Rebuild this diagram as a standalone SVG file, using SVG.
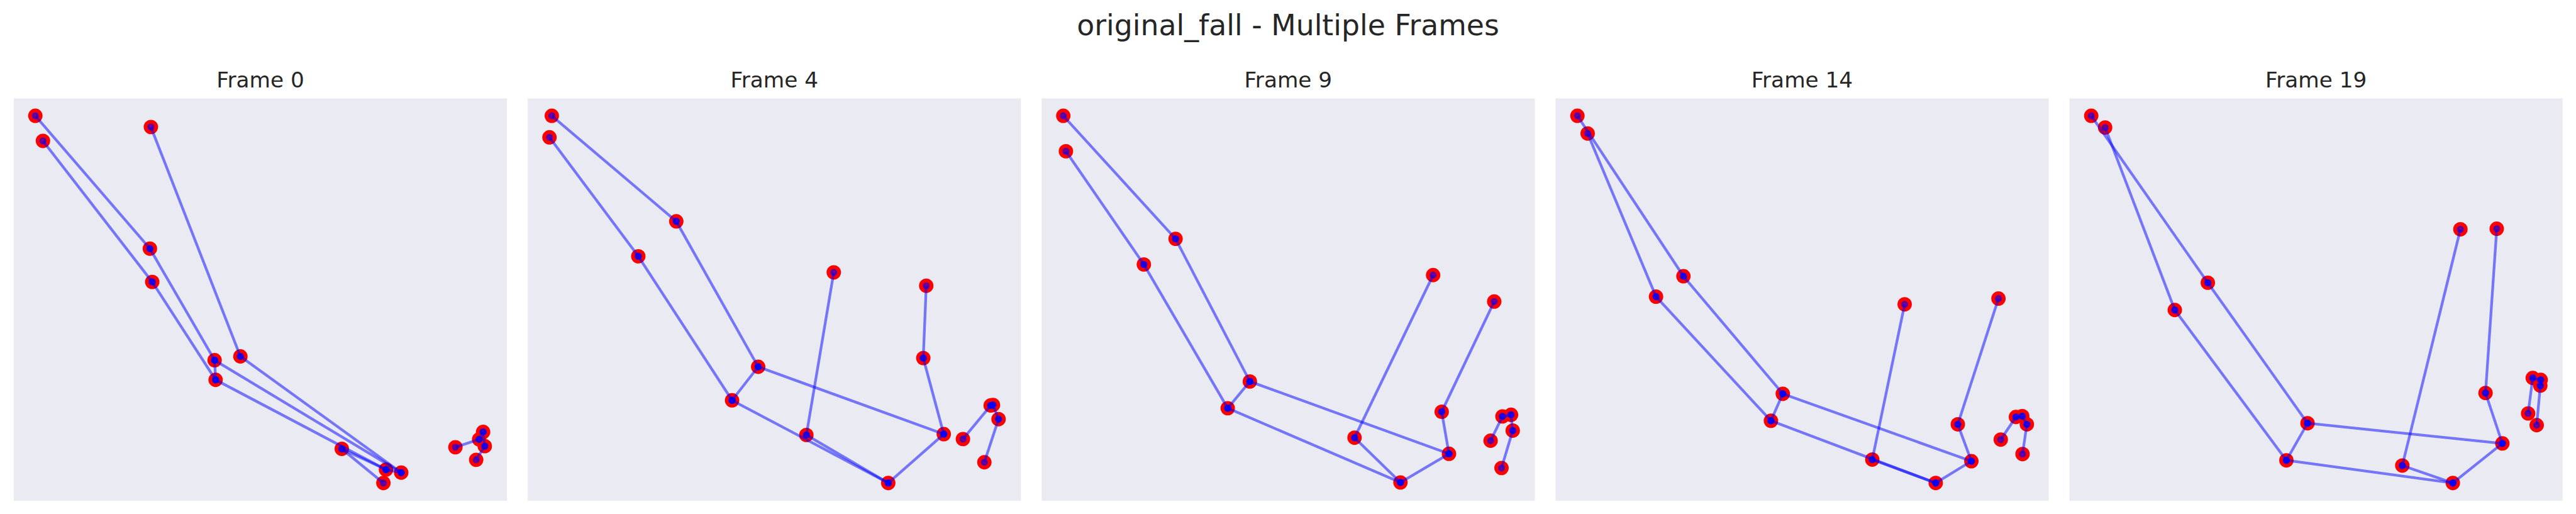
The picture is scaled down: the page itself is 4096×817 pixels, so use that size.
<svg xmlns="http://www.w3.org/2000/svg" width="4096" height="817" viewBox="0 0 4096 817">
<style>
.bg{fill:#EAEAF2}
.pt{fill:#ff0000}
.seg{stroke:#0000ff;stroke-opacity:0.5;stroke-width:6.25;fill:none;marker-start:url(#mk);marker-end:url(#mk)}
.sup{font-family:"DejaVu Sans",sans-serif;font-size:66.7px;fill:#262626;text-anchor:middle}
.ttl{font-family:"DejaVu Sans",sans-serif;font-size:50px;fill:#262626;text-anchor:middle}
</style>
<defs>
<marker id="mk" markerUnits="userSpaceOnUse" markerWidth="30" markerHeight="30" viewBox="0 0 30 30" refX="15" refY="15" overflow="visible">
<circle cx="15" cy="15" r="6.25" fill="#0000ff" fill-opacity="0.5" stroke="#0000ff" stroke-opacity="0.5" stroke-width="4.17"/>
</marker>
</defs>
<rect width="4096" height="817" fill="#ffffff"/>
<g transform="scale(0.6861)">
<text class="sup" x="2985" y="82">original_fall - Multiple Frames</text>

<g id="frame0">
<rect class="bg" x="32" y="228" width="1143" height="932"/>
<text class="ttl" x="603.5" y="202">Frame 0</text>
<g id="frame0-nodes">
<circle id="f0-a" class="pt" cx="81.9" cy="268.3" r="16.7"/>
<circle id="f0-b" class="pt" cx="99.5" cy="326.4" r="16.7"/>
<circle id="f0-c" class="pt" cx="349.7" cy="294.2" r="16.7"/>
<circle id="f0-d" class="pt" cx="347.4" cy="576.0" r="16.7"/>
<circle id="f0-e" class="pt" cx="352.8" cy="653.1" r="16.7"/>
<circle id="f0-f" class="pt" cx="497.4" cy="834.5" r="16.7"/>
<circle id="f0-g" class="pt" cx="499.7" cy="880.0" r="16.7"/>
<circle id="f0-h" class="pt" cx="557.1" cy="825.7" r="16.7"/>
<circle id="f0-i" class="pt" cx="792.1" cy="1039.9" r="16.7"/>
<circle id="f0-j" class="pt" cx="894.6" cy="1087.9" r="16.7"/>
<circle id="f0-k" class="pt" cx="929.8" cy="1094.9" r="16.7"/>
<circle id="f0-l" class="pt" cx="888.5" cy="1118.9" r="16.7"/>
<circle id="f0-m" class="pt" cx="1055.4" cy="1036.1" r="16.7"/>
<circle id="f0-n" class="pt" cx="1110.5" cy="1017.8" r="16.7"/>
<circle id="f0-o" class="pt" cx="1119.6" cy="1000.7" r="16.7"/>
<circle id="f0-p" class="pt" cx="1123.5" cy="1033.6" r="16.7"/>
<circle id="f0-q" class="pt" cx="1103.6" cy="1065.2" r="16.7"/>
</g>
<g id="frame0-connectors">
<line class="seg" x1="81.9" y1="268.3" x2="347.4" y2="576.0"/>
<line class="seg" x1="347.4" y1="576.0" x2="497.4" y2="834.5"/>
<line class="seg" x1="99.5" y1="326.4" x2="352.8" y2="653.1"/>
<line class="seg" x1="352.8" y1="653.1" x2="499.7" y2="880.0"/>
<line class="seg" x1="497.4" y1="834.5" x2="499.7" y2="880.0"/>
<line class="seg" x1="497.4" y1="834.5" x2="929.8" y2="1094.9"/>
<line class="seg" x1="499.7" y1="880.0" x2="894.6" y2="1087.9"/>
<line class="seg" x1="894.6" y1="1087.9" x2="929.8" y2="1094.9"/>
<line class="seg" x1="349.7" y1="294.2" x2="557.1" y2="825.7"/>
<line class="seg" x1="557.1" y1="825.7" x2="929.8" y2="1094.9"/>
<line class="seg" x1="792.1" y1="1039.9" x2="894.6" y2="1087.9"/>
<line class="seg" x1="792.1" y1="1039.9" x2="888.5" y2="1118.9"/>
<line class="seg" x1="1055.4" y1="1036.1" x2="1110.5" y2="1017.8"/>
<line class="seg" x1="1110.5" y1="1017.8" x2="1119.6" y2="1000.7"/>
<line class="seg" x1="1119.6" y1="1000.7" x2="1123.5" y2="1033.6"/>
<line class="seg" x1="1123.5" y1="1033.6" x2="1103.6" y2="1065.2"/>
</g>
</g>

<g id="frame4">
<rect class="bg" x="1223" y="228" width="1143" height="932"/>
<text class="ttl" x="1794.5" y="202">Frame 4</text>
<g id="frame4-nodes">
<circle id="f4-a" class="pt" cx="1278.8" cy="268.3" r="16.7"/>
<circle id="f4-b" class="pt" cx="1273.4" cy="318.2" r="16.7"/>
<circle id="f4-c" class="pt" cx="1567.3" cy="512.8" r="16.7"/>
<circle id="f4-d" class="pt" cx="1479.3" cy="593.7" r="16.7"/>
<circle id="f4-e" class="pt" cx="1757.1" cy="849.7" r="16.7"/>
<circle id="f4-f" class="pt" cx="1696.6" cy="927.4" r="16.7"/>
<circle id="f4-g" class="pt" cx="1932.3" cy="631.0" r="16.7"/>
<circle id="f4-h" class="pt" cx="2146.6" cy="662.0" r="16.7"/>
<circle id="f4-i" class="pt" cx="2139.7" cy="829.5" r="16.7"/>
<circle id="f4-j" class="pt" cx="2187.2" cy="1005.8" r="16.7"/>
<circle id="f4-k" class="pt" cx="1868.8" cy="1007.7" r="16.7"/>
<circle id="f4-l" class="pt" cx="2058.6" cy="1118.9" r="16.7"/>
<circle id="f4-m" class="pt" cx="2295.9" cy="939.4" r="16.7"/>
<circle id="f4-n" class="pt" cx="2301.2" cy="938.2" r="16.7"/>
<circle id="f4-o" class="pt" cx="2314.2" cy="971.0" r="16.7"/>
<circle id="f4-p" class="pt" cx="2231.6" cy="1017.2" r="16.7"/>
<circle id="f4-q" class="pt" cx="2281.3" cy="1070.9" r="16.7"/>
</g>
<g id="frame4-connectors">
<line class="seg" x1="1278.8" y1="268.3" x2="1567.3" y2="512.8"/>
<line class="seg" x1="1567.3" y1="512.8" x2="1757.1" y2="849.7"/>
<line class="seg" x1="1273.4" y1="318.2" x2="1479.3" y2="593.7"/>
<line class="seg" x1="1479.3" y1="593.7" x2="1696.6" y2="927.4"/>
<line class="seg" x1="1757.1" y1="849.7" x2="1696.6" y2="927.4"/>
<line class="seg" x1="1757.1" y1="849.7" x2="2187.2" y2="1005.8"/>
<line class="seg" x1="1696.6" y1="927.4" x2="2058.6" y2="1118.9"/>
<line class="seg" x1="2187.2" y1="1005.8" x2="2058.6" y2="1118.9"/>
<line class="seg" x1="1868.8" y1="1007.7" x2="2058.6" y2="1118.9"/>
<line class="seg" x1="1932.3" y1="631.0" x2="1868.8" y2="1007.7"/>
<line class="seg" x1="2146.6" y1="662.0" x2="2139.7" y2="829.5"/>
<line class="seg" x1="2139.7" y1="829.5" x2="2187.2" y2="1005.8"/>
<line class="seg" x1="2231.6" y1="1017.2" x2="2295.9" y2="939.4"/>
<line class="seg" x1="2295.9" y1="939.4" x2="2301.2" y2="938.2"/>
<line class="seg" x1="2301.2" y1="938.2" x2="2314.2" y2="971.0"/>
<line class="seg" x1="2314.2" y1="971.0" x2="2281.3" y2="1070.9"/>
</g>
</g>

<g id="frame9">
<rect class="bg" x="2414" y="228" width="1143" height="932"/>
<text class="ttl" x="2985.5" y="202">Frame 9</text>
<g id="frame9-nodes">
<circle id="f9-a" class="pt" cx="2464.2" cy="268.3" r="16.7"/>
<circle id="f9-b" class="pt" cx="2470.3" cy="350.4" r="16.7"/>
<circle id="f9-c" class="pt" cx="2724.4" cy="553.3" r="16.7"/>
<circle id="f9-d" class="pt" cx="2650.9" cy="612.7" r="16.7"/>
<circle id="f9-e" class="pt" cx="2896.6" cy="883.8" r="16.7"/>
<circle id="f9-f" class="pt" cx="2845.3" cy="945.7" r="16.7"/>
<circle id="f9-g" class="pt" cx="3321.3" cy="637.3" r="16.7"/>
<circle id="f9-h" class="pt" cx="3462.9" cy="698.6" r="16.7"/>
<circle id="f9-i" class="pt" cx="3341.2" cy="954.0" r="16.7"/>
<circle id="f9-j" class="pt" cx="3358.1" cy="1051.3" r="16.7"/>
<circle id="f9-k" class="pt" cx="3139.2" cy="1014.0" r="16.7"/>
<circle id="f9-l" class="pt" cx="3245.6" cy="1117.7" r="16.7"/>
<circle id="f9-m" class="pt" cx="3482.0" cy="964.7" r="16.7"/>
<circle id="f9-n" class="pt" cx="3501.9" cy="960.9" r="16.7"/>
<circle id="f9-o" class="pt" cx="3505.8" cy="997.6" r="16.7"/>
<circle id="f9-p" class="pt" cx="3454.5" cy="1021.0" r="16.7"/>
<circle id="f9-q" class="pt" cx="3479.8" cy="1084.2" r="16.7"/>
</g>
<g id="frame9-connectors">
<line class="seg" x1="2464.2" y1="268.3" x2="2724.4" y2="553.3"/>
<line class="seg" x1="2724.4" y1="553.3" x2="2896.6" y2="883.8"/>
<line class="seg" x1="2470.3" y1="350.4" x2="2650.9" y2="612.7"/>
<line class="seg" x1="2650.9" y1="612.7" x2="2845.3" y2="945.7"/>
<line class="seg" x1="2896.6" y1="883.8" x2="2845.3" y2="945.7"/>
<line class="seg" x1="2896.6" y1="883.8" x2="3358.1" y2="1051.3"/>
<line class="seg" x1="2845.3" y1="945.7" x2="3245.6" y2="1117.7"/>
<line class="seg" x1="3358.1" y1="1051.3" x2="3245.6" y2="1117.7"/>
<line class="seg" x1="3139.2" y1="1014.0" x2="3245.6" y2="1117.7"/>
<line class="seg" x1="3321.3" y1="637.3" x2="3139.2" y2="1014.0"/>
<line class="seg" x1="3462.9" y1="698.6" x2="3341.2" y2="954.0"/>
<line class="seg" x1="3341.2" y1="954.0" x2="3358.1" y2="1051.3"/>
<line class="seg" x1="3454.5" y1="1021.0" x2="3482.0" y2="964.7"/>
<line class="seg" x1="3482.0" y1="964.7" x2="3501.9" y2="960.9"/>
<line class="seg" x1="3501.9" y1="960.9" x2="3505.8" y2="997.6"/>
<line class="seg" x1="3505.8" y1="997.6" x2="3479.8" y2="1084.2"/>
</g>
</g>

<g id="frame14">
<rect class="bg" x="3605" y="228" width="1143" height="932"/>
<text class="ttl" x="4176.5" y="202">Frame 14</text>
<g id="frame14-nodes">
<circle id="f14-a" class="pt" cx="3655.7" cy="268.3" r="16.7"/>
<circle id="f14-b" class="pt" cx="3679.4" cy="309.3" r="16.7"/>
<circle id="f14-c" class="pt" cx="3901.4" cy="639.9" r="16.7"/>
<circle id="f14-d" class="pt" cx="3837.9" cy="687.3" r="16.7"/>
<circle id="f14-e" class="pt" cx="4131.7" cy="912.3" r="16.7"/>
<circle id="f14-f" class="pt" cx="4104.2" cy="974.8" r="16.7"/>
<circle id="f14-g" class="pt" cx="4414.1" cy="705.0" r="16.7"/>
<circle id="f14-h" class="pt" cx="4631.5" cy="691.7" r="16.7"/>
<circle id="f14-i" class="pt" cx="4537.3" cy="983.0" r="16.7"/>
<circle id="f14-j" class="pt" cx="4568.7" cy="1068.4" r="16.7"/>
<circle id="f14-k" class="pt" cx="4339.1" cy="1064.6" r="16.7"/>
<circle id="f14-l" class="pt" cx="4486.1" cy="1118.9" r="16.7"/>
<circle id="f14-m" class="pt" cx="4672.0" cy="966.0" r="16.7"/>
<circle id="f14-n" class="pt" cx="4686.6" cy="964.1" r="16.7"/>
<circle id="f14-o" class="pt" cx="4697.3" cy="983.0" r="16.7"/>
<circle id="f14-p" class="pt" cx="4636.8" cy="1018.4" r="16.7"/>
<circle id="f14-q" class="pt" cx="4687.3" cy="1051.9" r="16.7"/>
</g>
<g id="frame14-connectors">
<line class="seg" x1="3655.7" y1="268.3" x2="3901.4" y2="639.9"/>
<line class="seg" x1="3901.4" y1="639.9" x2="4131.7" y2="912.3"/>
<line class="seg" x1="3679.4" y1="309.3" x2="3837.9" y2="687.3"/>
<line class="seg" x1="3837.9" y1="687.3" x2="4104.2" y2="974.8"/>
<line class="seg" x1="4131.7" y1="912.3" x2="4104.2" y2="974.8"/>
<line class="seg" x1="4131.7" y1="912.3" x2="4568.7" y2="1068.4"/>
<line class="seg" x1="4104.2" y1="974.8" x2="4486.1" y2="1118.9"/>
<line class="seg" x1="4568.7" y1="1068.4" x2="4486.1" y2="1118.9"/>
<line class="seg" x1="4339.1" y1="1064.6" x2="4486.1" y2="1118.9"/>
<line class="seg" x1="4414.1" y1="705.0" x2="4339.1" y2="1064.6"/>
<line class="seg" x1="4631.5" y1="691.7" x2="4537.3" y2="983.0"/>
<line class="seg" x1="4537.3" y1="983.0" x2="4568.7" y2="1068.4"/>
<line class="seg" x1="4636.8" y1="1018.4" x2="4672.0" y2="966.0"/>
<line class="seg" x1="4672.0" y1="966.0" x2="4686.6" y2="964.1"/>
<line class="seg" x1="4686.6" y1="964.1" x2="4697.3" y2="983.0"/>
<line class="seg" x1="4697.3" y1="983.0" x2="4687.3" y2="1051.9"/>
</g>
</g>

<g id="frame19">
<rect class="bg" x="4796" y="228" width="1143" height="932"/>
<text class="ttl" x="5367.5" y="202">Frame 19</text>
<g id="frame19-nodes">
<circle id="f19-a" class="pt" cx="4846.5" cy="268.3" r="16.7"/>
<circle id="f19-b" class="pt" cx="4878.7" cy="295.4" r="16.7"/>
<circle id="f19-c" class="pt" cx="5116.7" cy="655.0" r="16.7"/>
<circle id="f19-d" class="pt" cx="5040.2" cy="718.2" r="16.7"/>
<circle id="f19-e" class="pt" cx="5347.8" cy="980.5" r="16.7"/>
<circle id="f19-f" class="pt" cx="5298.8" cy="1066.5" r="16.7"/>
<circle id="f19-g" class="pt" cx="5702.1" cy="531.2" r="16.7"/>
<circle id="f19-h" class="pt" cx="5786.3" cy="529.9" r="16.7"/>
<circle id="f19-i" class="pt" cx="5760.3" cy="910.4" r="16.7"/>
<circle id="f19-j" class="pt" cx="5799.3" cy="1027.3" r="16.7"/>
<circle id="f19-k" class="pt" cx="5567.4" cy="1078.5" r="16.7"/>
<circle id="f19-l" class="pt" cx="5684.5" cy="1118.9" r="16.7"/>
<circle id="f19-m" class="pt" cx="5869.7" cy="875.6" r="16.7"/>
<circle id="f19-n" class="pt" cx="5888.1" cy="880.0" r="16.7"/>
<circle id="f19-o" class="pt" cx="5887.3" cy="893.3" r="16.7"/>
<circle id="f19-p" class="pt" cx="5859.0" cy="957.8" r="16.7"/>
<circle id="f19-q" class="pt" cx="5878.9" cy="984.9" r="16.7"/>
</g>
<g id="frame19-connectors">
<line class="seg" x1="4846.5" y1="268.3" x2="5116.7" y2="655.0"/>
<line class="seg" x1="5116.7" y1="655.0" x2="5347.8" y2="980.5"/>
<line class="seg" x1="4878.7" y1="295.4" x2="5040.2" y2="718.2"/>
<line class="seg" x1="5040.2" y1="718.2" x2="5298.8" y2="1066.5"/>
<line class="seg" x1="5347.8" y1="980.5" x2="5298.8" y2="1066.5"/>
<line class="seg" x1="5347.8" y1="980.5" x2="5799.3" y2="1027.3"/>
<line class="seg" x1="5298.8" y1="1066.5" x2="5684.5" y2="1118.9"/>
<line class="seg" x1="5799.3" y1="1027.3" x2="5684.5" y2="1118.9"/>
<line class="seg" x1="5567.4" y1="1078.5" x2="5684.5" y2="1118.9"/>
<line class="seg" x1="5702.1" y1="531.2" x2="5567.4" y2="1078.5"/>
<line class="seg" x1="5786.3" y1="529.9" x2="5760.3" y2="910.4"/>
<line class="seg" x1="5760.3" y1="910.4" x2="5799.3" y2="1027.3"/>
<line class="seg" x1="5859.0" y1="957.8" x2="5869.7" y2="875.6"/>
<line class="seg" x1="5869.7" y1="875.6" x2="5888.1" y2="880.0"/>
<line class="seg" x1="5888.1" y1="880.0" x2="5887.3" y2="893.3"/>
<line class="seg" x1="5887.3" y1="893.3" x2="5878.9" y2="984.9"/>
</g>
</g>
</g>
</svg>
